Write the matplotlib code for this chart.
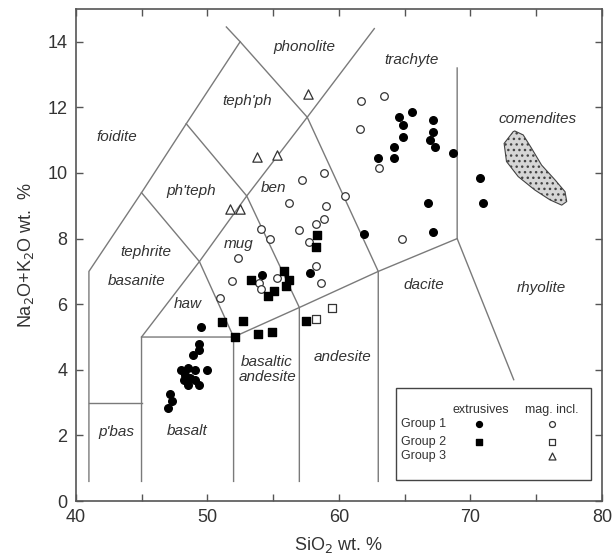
import numpy as np
import matplotlib
matplotlib.use('Agg')
import matplotlib.pyplot as plt
from matplotlib.patches import Polygon, Rectangle

plt.rcParams['font.family'] = ['Liberation Sans', 'DejaVu Sans']

# Group 1 extrusives (filled circles)
g1_ext_x = [49.5, 49.35, 49.4, 48.95, 48.0, 48.55, 49.1, 48.3, 48.7, 48.2, 49.1, 48.55, 49.35, 50.0,
            47.2, 47.3, 47.05, 54.15, 57.8, 61.95, 63.0, 64.17, 64.17, 65.55, 64.6, 64.9, 67.15,
            67.2, 64.85, 66.9, 67.35, 68.7, 70.75, 71.0, 66.8, 67.15]
g1_ext_y = [5.3, 4.8, 4.6, 4.45, 4.0, 4.05, 4.0, 3.85, 3.75, 3.7, 3.7, 3.55, 3.55, 4.0,
            3.25, 3.05, 2.85, 6.9, 6.95, 8.15, 10.45, 10.8, 10.45, 11.85, 11.7, 11.45, 11.6,
            11.25, 11.1, 11.0, 10.8, 10.6, 9.85, 9.1, 9.1, 8.2]
# Group 1 magmatic inclusions (open circles)
g1_inc_x = [58.9, 57.2, 60.45, 56.2, 59.0, 58.9, 58.25, 54.1, 57.0, 54.75, 57.75, 52.3, 58.25,
            51.9, 55.3, 53.9, 54.1, 58.65, 50.95, 63.05, 61.65, 63.4, 61.6, 64.8]
g1_inc_y = [10.0, 9.8, 9.3, 9.1, 9.0, 8.6, 8.45, 8.3, 8.25, 8.0, 7.9, 7.4, 7.15,
            6.7, 6.8, 6.65, 6.45, 6.65, 6.2, 10.15, 12.2, 12.35, 11.35, 8.0]
# Group 2
g2_ext_x = [58.35, 58.27, 55.8, 53.3, 56.2, 55.95, 55.05, 54.6, 51.15, 52.7, 53.85, 54.9, 52.1, 57.5]
g2_ext_y = [8.1, 7.75, 7.0, 6.75, 6.75, 6.55, 6.4, 6.25, 5.45, 5.5, 5.1, 5.15, 5.0, 5.5]
g2_inc_x = [58.3, 59.5]
g2_inc_y = [5.55, 5.9]
# Group 3
g3_inc_x = [53.8, 55.3, 51.7, 52.5, 57.65]
g3_inc_y = [10.5, 10.55, 8.9, 8.9, 12.4]

# comendite field outline
com_x = [73.26, 72.57, 72.75, 73.64, 74.91, 76.06, 76.95, 77.33, 77.2, 76.44, 75.42, 74.66, 74.02, 73.38]
com_y = [11.26, 10.9, 10.35, 9.89, 9.48, 9.18, 9.02, 9.13, 9.43, 9.79, 10.24, 10.75, 11.16, 11.28]

# TAS boundaries
tas_lines = [
    [(41, 0.6), (41, 7), (45, 9.4), (48.4, 11.5), (52.5, 14)],
    [(41, 3), (45, 3)],
    [(45, 0.6), (45, 5), (49.4, 7.3), (45, 9.4)],
    [(45, 5), (52, 5), (57, 5.9), (63, 7), (69, 8)],
    [(52, 0.6), (52, 5), (49.4, 7.3), (53, 9.3), (57, 5.9), (57, 0.6)],
    [(48.4, 11.5), (53, 9.3), (57.6, 11.7), (62.7, 14.4)],
    [(51.45, 14.45), (52.5, 14), (57.6, 11.7), (63, 7), (63, 0.6)],
    [(69, 13.2), (69, 8), (73.3, 3.7)],
]

fields = [
    ('foidite', 43.1, 11.1), ('tephrite', 45.3, 7.6), ('basanite', 44.6, 6.7),
    ("ph'teph", 48.75, 9.45), ("teph'ph", 53.0, 12.2), ('phonolite', 57.35, 13.85),
    ('trachyte', 65.5, 13.45), ('ben', 55.0, 9.55), ('mug', 52.4, 7.85), ('haw', 48.55, 6.0),
    ('basalt', 48.45, 2.15), ("p'bas", 43.05, 2.1), ('basaltic\nandesite', 54.55, 4.0),
    ('andesite', 60.3, 4.4), ('dacite', 66.5, 6.6), ('rhyolite', 75.4, 6.5),
    ('comendites', 75.15, 11.65),
]

fig = plt.figure(figsize=(6.16, 5.58), dpi=100)
ax = fig.add_axes([0.123, 0.102, 0.854, 0.882])
ax.set_xlim(40, 80)
ax.set_ylim(0, 15)

lc = '#7a7a7a'
for seg in tas_lines:
    xs, ys = zip(*seg)
    ax.plot(xs, ys, color=lc, lw=1.0, zorder=1)

plt.rcParams['hatch.linewidth'] = 1.0
ax.add_patch(Polygon(list(zip(com_x, com_y)), closed=True, facecolor='#d6d6d6',
                     edgecolor='#444444', hatch='...', lw=0.8, zorder=1))

for name, x, y in fields:
    ax.text(x, y, name, style='italic', fontsize=11, color='#333333',
            ha='center', va='center', linespacing=1.1, zorder=2)

ax.scatter(g1_ext_x, g1_ext_y, s=30, c='black', marker='o', zorder=3)
ax.scatter(g1_inc_x, g1_inc_y, s=30, facecolors='white', edgecolors='#333333', marker='o', lw=0.9, zorder=3)
ax.scatter(g2_ext_x, g2_ext_y, s=30, c='black', marker='s', zorder=3)
ax.scatter(g2_inc_x, g2_inc_y, s=30, facecolors='white', edgecolors='#333333', marker='s', lw=0.9, zorder=3)
ax.scatter(g3_inc_x, g3_inc_y, s=45, facecolors='white', edgecolors='#333333', marker='^', lw=0.9, zorder=3)

# legend box
ax.add_patch(Rectangle((64.35, 0.64), 14.8, 2.8, facecolor='white', edgecolor='#444444', lw=1.0, zorder=4))
ax.text(70.8, 2.77, 'extrusives', fontsize=9, color='#333333', ha='center', va='center', zorder=5)
ax.text(76.2, 2.77, 'mag. incl.', fontsize=9, color='#333333', ha='center', va='center', zorder=5)
rows = [2.34, 1.81, 1.37]
for i, r in enumerate(rows):
    ax.text(64.7, r, 'Group %d' % (i + 1), fontsize=9, color='#333333', ha='left', va='center', zorder=5)
ax.scatter([70.63], [rows[0]], s=18, c='black', marker='o', zorder=5)
ax.scatter([70.63], [rows[1]], s=18, c='black', marker='s', zorder=5)
ax.scatter([76.18], [rows[0]], s=18, facecolors='white', edgecolors='#333333', marker='o', lw=0.9, zorder=5)
ax.scatter([76.18], [rows[1]], s=18, facecolors='white', edgecolors='#333333', marker='s', lw=0.9, zorder=5)
ax.scatter([76.18], [rows[2]], s=25, facecolors='white', edgecolors='#333333', marker='^', lw=0.9, zorder=5)

ax.set_xticks(np.arange(40, 81, 5))
ax.set_xticklabels(['40', '', '50', '', '60', '', '70', '', '80'])
ax.set_yticks(np.arange(0, 15, 2))
ax.tick_params(direction='in', top=True, right=True, length=5, width=1, color='#555555',
               labelsize=13, labelcolor='#333333', pad=6)
for sp in ax.spines.values():
    sp.set_color('#555555')
    sp.set_linewidth(1.2)

ax.set_xlabel('SiO$_2$ wt. %', fontsize=13, color='#333333', labelpad=6)
ax.set_ylabel('Na$_2$O+K$_2$O wt.  %', fontsize=13, color='#333333', labelpad=8)

fig.savefig('out.png', dpi=100)
